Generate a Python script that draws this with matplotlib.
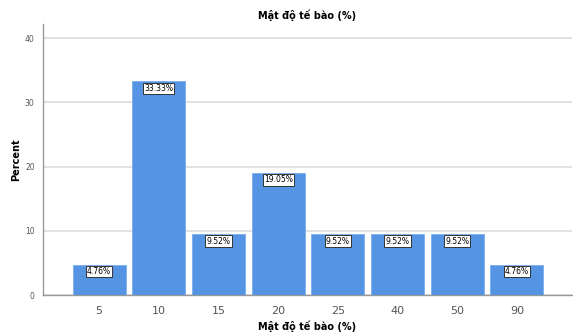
import matplotlib.pyplot as plt
import numpy as np

categories = ['5', '10', '15', '20', '25', '40', '50', '90']
percents = [4.76, 33.33, 9.52, 19.05, 9.52, 9.52, 9.52, 4.76]

fig = plt.figure(figsize=(5.73, 3.35), dpi=100)
ax = fig.add_axes([0.075, 0.119, 0.923, 0.809])

x = np.arange(len(categories))
bars = ax.bar(x, percents, width=0.89, color='#5594e3', edgecolor='#7aaef0',
              linewidth=0.6, zorder=3)

for xi, v in zip(x, percents):
    ax.text(xi, v - 0.4, f'{v:.2f}%', ha='center', va='top', fontsize=5.5,
            color='black', zorder=4,
            bbox=dict(boxstyle='square,pad=0.15', facecolor='white',
                      edgecolor='#333333', linewidth=0.7))

ax.set_xlim(-0.94, 7.92)
ax.set_ylim(0, 42.2)
ax.set_yticks([0, 10, 20, 30, 40])
ax.set_xticks(x)
ax.set_xticklabels(categories)
ax.tick_params(axis='x', length=0, labelsize=8, colors='#555555', pad=8)
ax.tick_params(axis='y', length=0, labelsize=5.5, colors='#555555', pad=6)
ax.grid(axis='y', color='#dddddd', linewidth=1.2, zorder=0)

for s in ['top', 'right']:
    ax.spines[s].set_visible(False)
for s in ['left', 'bottom']:
    ax.spines[s].set_color('#999999')
    ax.spines[s].set_linewidth(1.0)

ax.set_title('Mật độ tế bào (%)', fontsize=7, fontweight='bold', pad=4)
ax.set_xlabel('Mật độ tế bào (%)', fontsize=7, fontweight='bold', labelpad=3)
ax.set_ylabel('Percent', fontsize=7, fontweight='bold', labelpad=3)

fig.savefig('out.png', dpi=100)
